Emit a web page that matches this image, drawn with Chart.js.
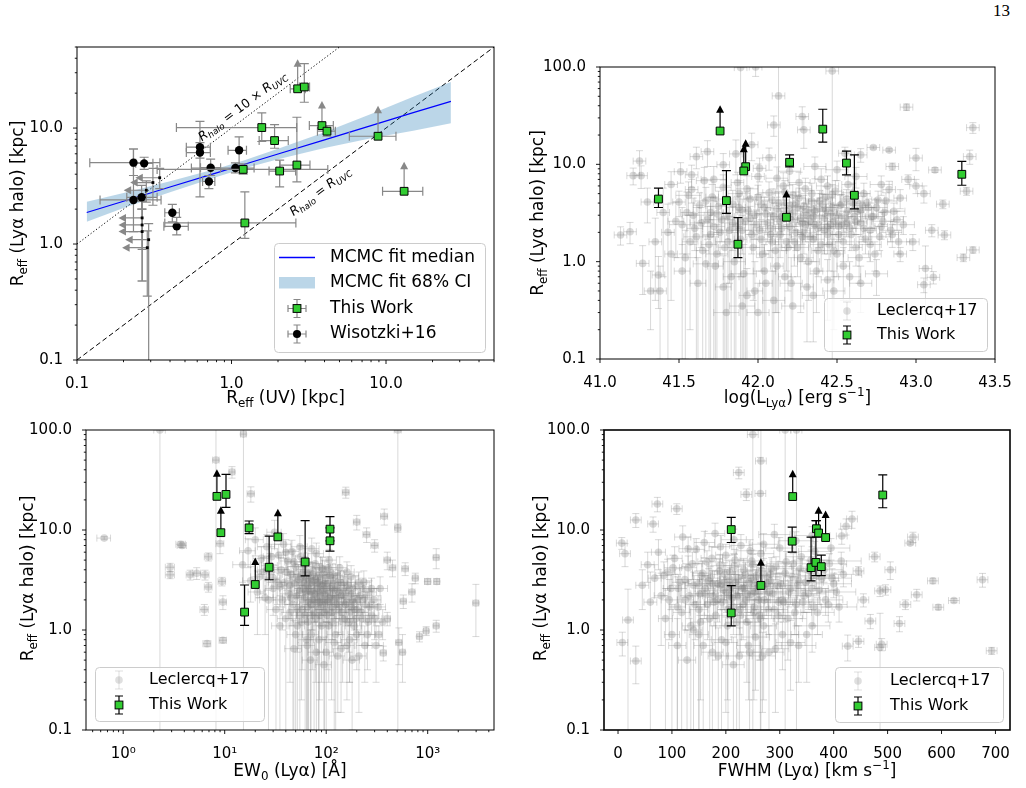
<!DOCTYPE html>
<html>
<head>
<meta charset="utf-8">
<script src="https://cdn.jsdelivr.net/npm/chart.js@4.4.1/dist/chart.umd.min.js"></script>
<style>
  html, body { margin: 0; background: #fff; }
  body { width: 1026px; height: 788px; position: relative; overflow: hidden; }
  canvas { position: absolute; }
  #page { position: absolute; left: 993px; top: 1px; font: 17px "Liberation Serif", serif; }
</style>
</head>
<body>
<div id="page">13</div>
<canvas id="pA"></canvas>
<canvas id="pB"></canvas>
<canvas id="pC"></canvas>
<canvas id="pD"></canvas>
<script>
// ---- panel A: R_eff(UV) vs R_eff(Lya halo) ----
const aTwUV   = [2.68, 2.96, 1.57, 1.90, 3.85, 4.15, 8.88, 2.65, 1.19, 2.05, 1.22, 13.1];
const aTwUVlo = [2.40, 2.75, 0.44, 1.51, 3.19, 3.60, 5.79, 2.06, 0.33, 1.75, 0.37, 9.5];
const aTwUVhi = [3.00, 3.20, 2.64, 2.33, 4.56, 4.70, 11.6, 3.22, 4.20, 2.60, 2.61, 17.3];
const aTwR    = [21.8, 22.6, 10.1, 7.8, 10.5, 9.4, 8.5, 4.8, 4.4, 4.26, 1.52, 2.85];
const aTwRlo  = [null, 16.7, 7.66, 6.7, null, 8.5, null, 3.43, 4.0, 3.11, 1.12, null];
const aTwRhi  = [35.5, 36.0, 13.5, 10.7, 15.5, 10.5, 14.1, 12.4, 4.9, 5.3, 2.82, 4.64];
const aTwLim  = [1, 0, 0, 0, 1, 0, 1, 0, 0, 0, 0, 1];

const aWiUV   = [0.232, 0.272, 0.625, 0.625, 1.12, 0.733, 1.06, 0.714, 0.232, 0.262, 0.414, 0.442];
const aWiUVlo = [0.121, 0.24, 0.51, 0.51, 0.95, 0.63, 0.55, 0.65, 0.141, 0.21, 0.37, 0.365];
const aWiUVhi = [0.344, 0.31, 0.73, 0.73, 1.25, 0.85, 1.40, 0.78, 0.35, 0.33, 0.46, 0.525];
const aWiR    = [5.03, 4.96, 6.84, 6.15, 6.43, 4.55, 4.52, 3.46, 2.40, 2.53, 1.86, 1.42];
const aWiRlo  = [3.9, 4.4, 5.5, 2.55, 4.9, 3.9, 4.1, 3.0, 1.28, 2.0, 1.55, 1.2];
const aWiRhi  = [6.6, 5.6, 11.4, 7.5, 8.4, 5.4, 5.0, 3.9, 6.6, 3.2, 2.2, 1.7];

const aUlUV   = [0.343, 0.31, 0.281, 0.264, 0.264, 0.264, 0.291, 0.285];
const aUlTip  = [0.257, 0.238, 0.216, 0.20, 0.20, 0.20, 0.221, 0.211];
const aUlR    = [3.73, 3.39, 2.91, 1.68, 1.46, 1.28, 1.09, 0.93];
const aUlRlo  = [3.0, 2.16, 2.3, 0.48, 0.9, 0.48, 0, 0.355];
const aUlRhi  = [4.5, 4.5, 3.5, 2.33, 2.0, 2.33, 1.5, 1.3];

const aFitUV  = [0.1156, 0.2, 0.4, 0.8, 1.2, 2, 4, 8, 15, 26.3];
const aFitMed = [1.87, 2.34, 3.10, 4.11, 4.85, 5.97, 7.91, 10.5, 13.6, 17.0];
const aFitLo  = [1.56, 2.04, 2.79, 3.79, 4.47, 5.38, 6.73, 8.15, 9.5, 11.0];
const aFitHi  = [2.31, 2.75, 3.48, 4.46, 5.26, 6.63, 9.22, 13.2, 18.6, 24.9];
const aOneToOne = [[0.1, 0.1], [50, 50]];
const aTenToOne = [[0.1, 1], [5, 50]];

// ---- panel B: log L(Lya) ----
const bTwL   = [41.37, 41.76, 41.80, 41.873, 41.922, 41.91, 42.18, 42.20, 42.41, 42.56, 42.61, 43.29];
const bTwR   = [4.4, 22.0, 4.24, 1.51, 9.46, 8.55, 2.86, 10.5, 23.0, 10.3, 4.81, 7.9];
const bTwRlo = [3.6, null, 3.14, 1.1, null, null, null, 9.4, 16.9, 7.8, 3.48, 6.1];
const bTwRhi = [5.7, 36, 8.6, 2.83, 16.1, 14.1, 4.85, 12.5, 36.8, 13.7, 12.5, 10.7];
const bTwLim = [0, 1, 0, 0, 1, 1, 1, 0, 0, 0, 0, 0];
// Leclercq+17 rows: [logL, R, logL err, R err]
const bCloud = [
 [41.45,1.2,.04,.8],[41.48,2.6,.05,1.5],[41.50,4.1,.04,1.2],[41.52,0.8,.05,.7],[41.55,3.2,.04,2.0],[41.57,1.6,.05,1.4],
 [41.58,5.5,.04,1.5],[41.60,2.2,.05,.9],[41.62,0.6,.05,.5],[41.63,3.8,.04,1.3],[41.65,1.3,.04,1.2],[41.66,6.8,.05,2.5],
 [41.68,2.7,.04,1.0],[41.70,1.9,.05,1.8],[41.71,4.6,.04,1.6],[41.73,0.9,.05,.9],[41.74,3.1,.04,1.1],[41.76,2.0,.04,.8],
 [41.78,5.8,.05,2.0],[41.79,1.4,.04,1.4],[41.81,2.9,.04,1.2],[41.83,0.7,.05,.7],[41.84,3.9,.04,1.5],[41.86,2.3,.04,2.3],
 [41.87,6.5,.04,1.8],[41.89,1.7,.04,1.0],[41.90,3.4,.04,1.0],[41.92,2.6,.05,2.6],[41.93,0.45,.05,.4],[41.95,4.4,.04,1.3],
 [41.96,1.9,.04,.7],[41.98,3.0,.04,1.3],[42.00,7.5,.04,2.6],[42.01,2.1,.04,1.0],[42.03,1.2,.04,1.1],[42.04,3.6,.04,1.0],
 [42.06,2.5,.04,.9],[42.07,5.1,.04,1.5],[42.09,1.6,.04,1.6],[42.10,2.9,.04,1.1],[42.12,0.9,.04,.6],[42.13,4.0,.04,1.2],
 [42.15,2.2,.04,.8],[42.16,6.0,.04,2.2],[42.18,3.3,.04,1.0],[42.19,1.4,.04,.9],[42.21,2.7,.04,1.0],[42.22,4.8,.04,1.4],
 [42.24,2.0,.04,.7],[42.25,3.6,.04,1.1],[42.27,1.1,.04,.8],[42.28,2.5,.04,1.0],[42.30,5.6,.04,1.6],[42.31,3.0,.04,.9],
 [42.33,1.8,.04,.7],[42.34,4.2,.04,1.2],[42.36,2.4,.04,.8],[42.37,0.8,.04,.5],[42.39,3.5,.04,1.0],[42.40,7.0,.04,2.0],
 [42.42,2.1,.04,.9],[42.43,4.6,.04,1.3],[42.45,1.5,.04,.7],[42.46,3.1,.04,.9],[42.48,2.6,.04,.7],[42.49,5.3,.04,1.5],
 [42.51,1.9,.04,.6],[42.52,3.8,.04,1.0],[42.54,0.9,.04,.5],[42.55,2.8,.04,.8],[42.57,6.2,.04,1.5],[42.58,2.2,.04,.7],
 [42.60,4.0,.04,1.1],[42.62,1.4,.04,.5],[42.63,3.3,.04,.9],[42.65,2.5,.04,.7],[42.67,5.0,.04,1.4],[42.68,1.7,.04,.5],
 [42.70,3.6,.04,.8],[42.72,2.9,.04,.7],[42.74,1.2,.04,.4],[42.76,4.3,.04,1.0],[42.78,2.3,.04,.6],[42.80,3.2,.04,.8],
 [42.83,5.5,.04,1.2],[42.85,1.9,.04,.5],[42.88,2.7,.04,.6],[42.90,4.5,.04,1.0],
 [41.95,2.8,.04,.9],[42.02,3.9,.04,1.2],[42.08,1.9,.04,.8],[42.14,2.6,.04,.9],[42.20,3.8,.04,1.1],[42.23,1.6,.04,.7],
 [42.26,4.5,.04,1.2],[42.29,2.0,.04,.8],[42.32,3.4,.04,1.0],[42.35,2.9,.04,.9],[42.38,1.3,.04,.6],[42.41,3.9,.04,1.0],
 [42.44,2.3,.04,.8],[42.47,3.6,.04,.9],[42.50,1.2,.04,.5],[42.53,2.4,.04,.7],[42.56,4.4,.04,1.1],[42.61,2.9,.04,.7],
 [42.66,3.8,.04,.9],[42.71,2.1,.04,.6],[41.88,3.6,.04,1.4],[41.82,2.1,.05,1.5],[41.75,3.7,.05,1.6],[41.69,1.5,.05,1.5],
 [42.05,0.6,.04,.6],[42.17,0.7,.04,.6],[42.31,0.55,.04,.4],[42.44,0.65,.04,.4],[41.98,0.5,.05,.5],[41.78,0.55,.05,.6],
 [41.89,98.6,.04,120],[41.985,100,.04,20],[42.13,50.5,.04,60],[42.47,91,.04,100],[42.94,38.7,.04,3],[43.36,23.8,.04,3],
 [41.25,10.8,.04,3],[41.21,7.65,.04,1.5],[41.26,7.65,.04,2],[41.13,1.88,.04,.4],[41.19,2.03,.04,.5],[41.27,0.96,.04,.5],
 [41.32,0.5,.04,.3],[41.38,0.5,.04,.4],[41.37,0.73,.04,.4],[43.30,1.1,.04,.1],[43.36,1.32,.04,.1],[43.32,5.3,.04,.5],
 [43.34,12,.04,2],[43.18,1.88,.04,.2],[43.05,0.58,.04,.1],[43.11,0.69,.04,.1],[43.06,0.85,.04,.6],[43.0,11.6,.04,3],
 [43.12,8.75,.04,.5],[43.17,3.9,.04,.4],[42.73,14.9,.04,.5],[42.83,14,.04,.5],[42.29,22.6,.04,8],[42.28,31,.04,8],
 [42.10,25.4,.04,6],[41.68,13.5,.04,4],[41.61,12,.04,3],[41.51,8.4,.04,2],[41.58,7.8,.04,2],[41.78,9.9,.04,3],
 [41.86,12.8,.04,5],[41.96,15.9,.04,5],[42.01,9.1,.04,2.5],[42.07,11.7,.04,3],[42.55,13,.04,2],[42.65,12.5,.04,2],
 [42.85,9.5,.04,.8],[42.95,7,.04,.8],[43.0,6,.04,1],[43.05,5,.04,1],[43.1,2.1,.04,.3],[42.98,1.6,.04,.3],
 [42.9,1.2,.04,.2],[41.4,3.2,.04,2.5],[41.43,2.0,.04,1.9],[41.35,1.6,.04,1.2],[41.3,4.1,.04,1.6],[41.45,6.2,.04,2.2]
];
const bCloudCore = [
 [41.52,2.4,.08,1.2],[41.54,1.1,.07,1.0],[41.56,4.8,.08,1.8],[41.59,3.0,.07,1.5],[41.61,1.8,.08,1.8],[41.64,2.5,.07,1.1],[41.67,0.95,.08,.9],[41.67,4.2,.07,1.6],
 [41.70,3.2,.08,1.4],[41.72,2.3,.07,2.3],[41.74,1.2,.07,1.2],[41.77,2.7,.08,1.1],[41.80,4.4,.07,1.6],[41.81,1.6,.08,1.6],[41.84,2.5,.07,1.2],[41.85,1.0,.07,1.0],
 [41.88,5.0,.07,1.8],[41.90,2.1,.07,.9],[41.91,0.75,.08,.75],[41.94,3.3,.07,1.2],[41.97,1.4,.07,1.0],[41.99,2.4,.07,1.0],[42.00,4.6,.07,1.5],[42.02,1.7,.07,.9],
 [42.04,0.8,.07,.7],[42.05,3.1,.07,1.1],[42.08,2.2,.07,.9],[42.09,4.3,.07,1.3],[42.11,1.3,.07,1.0],[42.12,3.5,.07,1.1],[42.14,1.9,.07,.8],[42.15,2.9,.07,1.0],
 [42.17,5.2,.07,1.6],[42.18,1.6,.07,.8],[42.20,2.3,.07,.9],[42.21,0.6,.07,.5],[42.22,3.1,.07,1.0],[42.24,4.0,.07,1.2],[42.25,1.4,.07,.7],[42.27,2.8,.07,.9],
 [42.28,1.8,.07,.8],[42.29,3.7,.07,1.1],[42.30,2.4,.07,.8],[42.32,1.0,.07,.6],[42.33,2.6,.07,.8],[42.34,5.0,.07,1.4],[42.35,1.7,.07,.7],[42.36,3.3,.07,1.0],
 [42.38,2.2,.07,.8],[42.39,4.2,.07,1.2],[42.40,1.5,.07,.7],[42.42,2.8,.07,.8],[42.43,3.4,.07,1.0],[42.44,1.9,.07,.7],[42.46,2.4,.07,.7],[42.47,4.9,.07,1.3],
 [42.48,1.3,.07,.6],[42.50,3.0,.07,.8],[42.51,2.3,.07,.7],[42.53,3.9,.07,1.0],[42.54,1.6,.07,.6],[42.56,2.5,.07,.7],[42.57,3.3,.07,.9],[42.59,1.9,.07,.6],
 [42.60,5.1,.07,1.3],[42.62,2.6,.07,.7],[42.64,1.1,.07,.5],[42.65,3.4,.07,.8],[42.67,2.2,.07,.6],[42.69,4.0,.07,1.0],[42.71,1.5,.07,.5],[42.73,2.9,.07,.7],
 [42.75,3.6,.07,.8],[42.77,1.8,.07,.5],[42.79,2.6,.07,.6],[42.81,4.2,.07,.9],[42.84,2.1,.07,.5],[42.86,3.3,.07,.7],[42.89,1.6,.07,.4],[42.92,2.4,.07,.5],
 [42.10,0.4,.07,.4],[42.22,0.35,.07,.35],[42.35,0.45,.07,.3],[42.48,0.5,.07,.3],[42.58,0.7,.07,.3],[41.90,0.35,.08,.35],[41.80,0.3,.08,.3],[42.65,0.6,.07,.3],
 [42.75,0.75,.07,.3],[42.00,0.3,.07,.3],[42.26,6.5,.07,1.8],[42.44,6.0,.07,1.6],[42.12,7.2,.07,2.2],[41.93,5.6,.07,2.0],[42.62,7.5,.07,1.8],[42.78,6.2,.07,1.4],
 [42.20,8.5,.07,2.4],[42.50,8.8,.07,2.0],[41.72,7.0,.08,2.5],[42.36,9.5,.07,2.4]
];

// ---- panel C: EW0(Lya) ----
const cTwEW  = [8.38, 10.3, 9.17, 17.4, 15.7, 20.0, 27.4, 33.4, 62, 109, 109];
const cTwR   = [21.7, 22.7, 9.4, 10.5, 1.51, 2.85, 4.24, 8.53, 4.79, 10.2, 7.8];
const cTwRlo = [null, 16.8, null, 9.2, 1.11, null, 3.18, null, 3.48, 7.8, 6.15];
const cTwRhi = [36, 36, 15.4, 12.3, 2.82, 4.74, 8.67, 14.5, 12.4, 13.6, 10.5];
const cTwLim = [1, 0, 1, 0, 0, 1, 0, 1, 0, 0, 0];
const cCloud = [
 [15,4.5,3,1.5],[17,6.2,3,2],[18,3.1,3,1.2],[20,8.0,4,2.5],[21,2.4,4,1.5],[23,5.2,4,1.6],[24,3.8,4,1.5],[26,6.8,5,2.2],
 [27,2.0,5,2.0],[28,4.4,5,1.4],[30,3.3,5,1.2],[31,9.5,5,3],[32,1.6,6,1.6],[34,5.6,6,1.6],[35,2.7,6,1.0],[36,4.0,6,1.3],
 [38,7.2,7,2],[39,3.0,7,1.2],[40,1.3,7,1.3],[42,4.9,7,1.4],[43,2.3,8,1.0],[45,3.6,8,1.2],[46,6.1,8,1.8],[47,1.8,8,1.8],
 [49,2.9,9,1.0],[50,4.3,9,1.3],[52,1.1,9,1.1],[53,3.4,9,1.1],[55,2.5,10,1.0],[56,5.4,10,1.6],[58,1.6,10,1.2],[59,3.0,10,1.0],
 [61,2.1,11,0.9],[62,4.0,11,1.3],[64,0.8,11,0.8],[65,2.8,12,1.0],[67,1.9,12,1.9],[68,3.7,12,1.1],[70,2.4,12,0.9],[72,6.5,13,1.8],
 [73,1.4,13,1.0],[75,3.1,13,1.0],[77,2.0,14,0.8],[78,4.6,14,1.3],[80,0.6,14,0.6],[82,2.6,15,0.9],[84,1.7,15,1.7],[85,3.5,15,1.1],
 [88,2.2,16,0.8],[90,1.1,16,0.8],[92,4.1,16,1.2],[94,2.9,17,0.9],[96,1.5,17,1.5],[98,2.3,17,0.8],[100,3.3,18,1.0],[104,1.9,18,0.7],
 [107,5.0,19,1.4],[110,2.6,20,0.8],[113,1.2,20,1.0],[116,3.6,21,1.0],[120,2.0,22,0.7],[124,0.9,22,0.9],[128,2.8,23,0.9],[132,1.6,24,0.7],
 [136,4.2,25,1.2],[140,2.2,25,0.8],[145,1.3,26,1.0],[150,3.0,27,0.9],[155,1.8,28,0.7],[160,0.7,29,0.5],[165,2.5,30,0.8],[170,1.5,31,1.2],
 [176,3.4,32,1.0],[182,2.0,33,0.7],[188,1.1,34,0.6],[195,2.7,35,0.8],[200,1.6,36,0.6],[210,0.55,38,0.4],[215,2.2,39,0.7],[225,1.3,41,0.6],
 [235,3.0,43,0.9],[245,1.8,44,0.6],[255,0.9,46,0.5],[265,2.4,48,0.7],[280,1.4,51,0.5],[295,2.0,53,0.6],[310,0.7,56,0.4],[325,1.7,59,0.5],
 [340,2.6,62,0.8],[360,1.2,65,0.4],
 [55,1.4,10,1.4],[60,2.6,11,0.9],[66,1.2,12,1.2],[71,3.3,13,1.0],[76,1.5,14,1.5],[81,2.0,15,0.8],[86,2.9,15,0.9],[91,1.8,16,1.0],
 [97,3.8,17,1.1],[102,1.4,18,1.0],[108,2.1,19,0.8],[115,1.7,21,0.9],[122,2.5,22,0.8],[70,0.5,12,0.5],[95,0.45,17,0.4],[130,0.55,23,0.4],
 [48,0.65,9,0.6],[180,0.5,33,0.4],
 [0.65,8.3,.1,.3],[2.3,100,.3,150],[15.3,91,1,100],[508,100,40,150],[8.2,50,.6,60],[11.8,38,.8,5],[18.1,23,1.5,4],[156,23.8,12,3],
 [373,13.7,30,2.5],[508,10.5,35,1],[1213,5.3,80,1.2],[2985,1.86,200,1],[1213,1.1,80,.15],[966,0.98,60,.1],[830,0.86,50,.1],
 [1230,3.06,80,.2],[1000,3.06,70,.2],[755,3.3,50,.4],[575,1.94,40,.3],[520,0.75,35,.3],[565,0.6,35,.3],[365,0.59,25,.1],
 [3.7,7.2,.4,.5],[3.8,7.0,.4,.4],[2.9,4.24,.3,.4],[2.9,3.56,.3,.3],[4.57,3.56,.4,.4],[5.3,3.7,.5,.5],[6.4,3.56,.6,.4],
 [6.9,2.69,.6,.3],[6.3,1.6,.6,.2],[6.7,0.73,.6,.05],[9.6,0.79,.8,.05],[6.9,5.4,.6,.5],[9,7.3,.8,1.5],[9.6,1.9,.8,.3],
 [9.4,3.06,.8,.3],[200,12,15,2],[250,9,20,1.5],[300,7,25,1],[400,5,30,1],[450,4.2,35,.8],[600,4.1,45,.6],[700,2.4,50,.5],
 [330,0.9,25,.2],[400,1.3,30,.2]
];
const cCloudCore = [
 [22,3.4,4,1.3],[25,2.1,5,1.2],[29,5.4,5,1.8],[33,3.0,6,1.2],[37,2.0,7,1.0],[41,3.8,7,1.3],[44,1.5,8,1.2],[48,4.8,9,1.5],
 [51,2.2,9,0.9],[54,3.2,10,1.1],[57,1.2,10,1.0],[60,4.5,11,1.4],[63,2.4,11,0.9],[66,1.7,12,0.9],[69,2.9,12,1.0],[71,0.9,13,0.8],
 [74,3.6,13,1.1],[76,2.3,14,0.9],[79,1.3,14,1.0],[83,3.0,15,1.0],[87,1.9,16,0.8],[89,4.2,16,1.2],[93,2.5,17,0.9],[99,1.6,18,0.8],
 [103,2.9,18,0.9],[106,1.1,19,0.8],[111,2.2,20,0.8],[118,3.1,21,0.9],[125,1.8,22,0.7],[133,2.4,24,0.8],[142,1.5,25,0.6],[148,2.6,27,0.8],
 [158,1.9,28,0.7],[168,1.2,30,0.6],[178,2.3,32,0.7],[190,1.6,34,0.6],[205,2.0,37,0.6],[220,1.5,40,0.6],[240,2.1,43,0.6],[260,1.2,47,0.5],
 [44,2.8,8,1.0],[58,3.6,10,1.2],[62,1.4,11,1.4],[67,2.6,12,0.9],[73,2.0,13,1.0],[78,3.2,14,1.0],[86,1.4,15,1.2],[92,2.7,16,0.9],
 [101,2.0,18,0.8],[109,3.5,20,1.0],[114,1.5,21,0.7],[127,2.1,23,0.8],[138,3.0,25,0.9],[152,1.3,28,0.6],[163,2.8,30,0.8],[185,1.9,33,0.7],
 [198,1.3,36,0.5],[230,2.6,41,0.7],[270,1.7,49,0.5],[300,1.3,54,0.5],[50,0.9,9,0.9],[65,0.7,12,0.7],[85,0.8,15,0.8],[100,0.6,18,0.6],
 [120,0.75,22,0.7],[140,0.65,25,0.5],[170,0.8,31,0.5],[200,0.9,36,0.5],[240,0.7,43,0.4],[35,1.1,6,1.1],[26,4.0,5,1.5],[30,2.6,5,1.2],
 [40,6.0,7,2.0],[55,6.8,10,2.0],[80,5.8,14,1.6],[105,4.2,19,1.2],[130,3.5,23,1.0],[160,3.8,29,1.0],[210,3.0,38,0.8],[280,2.6,50,0.7],
 [45,2.1,8,1.0],[52,1.6,9,1.0],[64,3.3,12,1.0],[71,1.8,13,0.8],[83,2.4,15,0.8],[95,1.9,17,0.7],[115,2.6,21,0.8],[135,1.8,24,0.6],
 [150,2.2,27,0.7],[175,1.7,32,0.6]
];

// ---- panel D: FWHM(Lya) ----
const dTwF   = [324, 491, 210, 323, 368, 372, 385, 358, 367, 377, 265, 210];
const dTwR   = [21.6, 22.4, 10.1, 7.73, 10.3, 9.33, 8.4, 4.2, 4.74, 4.3, 2.79, 1.48];
const dTwRlo = [null, 16.7, 7.5, 6.0, 8.5, null, null, 3.1, 3.5, 3.5, null, 1.1];
const dTwRhi = [35.6, 35.6, 13.4, 10.7, 12.4, 15.4, 14.0, 8.5, 12.4, 5.6, 4.64, 2.78];
const dTwLim = [1, 0, 0, 0, 0, 1, 1, 0, 0, 0, 1, 0];
const dCloud = [
 [45,2.8,12,1.2],[55,4.5,12,1.5],[60,1.9,12,1.9],[68,3.3,12,1.2],[75,6.0,13,2],[80,2.2,13,1.5],[88,1.3,13,1.3],[92,3.8,14,1.3],
 [98,2.6,14,1.0],[105,5.2,14,1.6],[110,1.7,15,1.7],[115,3.0,15,1.1],[120,8.5,15,2.5],[125,2.0,15,1.0],[130,4.2,16,1.3],[135,1.1,16,1.1],
 [140,2.8,16,1.0],[145,6.4,16,1.8],[150,1.6,17,1.6],[155,3.5,17,1.1],[160,2.3,17,0.9],[165,4.8,17,1.4],[170,1.3,18,1.2],[175,2.9,18,1.0],
 [180,9.2,18,2.5],[184,2.0,18,0.8],[188,3.9,19,1.2],[192,0.8,19,0.8],[196,2.5,19,0.9],[200,5.6,19,1.6],[204,1.6,20,1.6],[208,3.2,20,1.0],
 [212,2.1,20,0.8],[216,4.4,20,1.3],[220,1.2,21,1.1],[224,2.7,21,0.9],[228,7.0,21,2.0],[232,1.8,21,1.0],[236,3.6,22,1.1],[240,2.3,22,0.8],
 [244,0.6,22,0.6],[248,4.9,22,1.4],[252,1.5,23,1.3],[256,3.0,23,1.0],[260,2.0,23,0.8],[265,5.8,24,1.6],[270,1.1,24,0.9],[275,3.4,24,1.0],
 [280,2.4,25,0.8],[285,4.1,25,1.2],[290,1.6,25,1.0],[295,2.8,26,0.9],[300,6.6,26,1.8],[305,2.0,26,0.7],[310,3.7,27,1.0],[315,1.3,27,0.8],
 [320,2.6,27,0.8],[325,4.6,28,1.2],[330,1.8,28,0.7],[335,3.1,28,0.9],[340,5.4,29,1.5],[345,2.2,29,0.7],[350,0.9,29,0.6],[355,3.9,30,1.0],
 [360,2.6,30,0.7],[365,6.1,30,1.6],[370,1.5,31,0.6],[378,3.3,31,0.9],[385,2.0,32,0.6],[392,4.6,32,1.2],[400,2.9,33,0.8],[410,1.7,33,0.5],
 [418,3.6,34,0.9],[128,0.5,16,0.5],[158,0.7,17,0.6],[186,0.55,19,0.5],[214,0.45,20,0.4],[242,0.7,22,0.5],[268,0.55,24,0.4],[292,0.65,25,0.5],
 [320,0.75,27,0.5],[100,0.9,14,0.9],[140,1.0,16,0.9],
 [152,2.3,17,0.9],[168,3.1,17,1.0],[178,1.9,18,0.8],[190,2.8,19,0.9],[198,3.6,19,1.1],[206,2.2,20,0.8],[218,3.0,20,0.9],[226,1.6,21,0.7],
 [234,2.6,21,0.8],[246,3.3,22,1.0],[254,2.4,23,0.8],[262,1.4,23,0.9],[272,2.7,24,0.8],[282,3.1,25,0.9],[298,1.9,26,0.7],
 [250,90,10,100],[310,100,10,120],[331,100,10,150],[265,49,10,60],[224,37.5,10,5],[264,23.2,10,30],[238,22.7,10,3],[73,18.2,10,3],
 [109,16.3,10,2],[33,12.6,10,2],[65,11.5,10,2],[7,7.4,10,1],[13,5.8,10,1.5],[8,0.75,10,.2],[18.5,1.26,10,1.3],[33,0.49,10,.2],
 [693,0.62,10,.05],[676,3.18,10,.5],[623,1.97,10,.1],[594,1.69,10,.1],[584,3.1,10,.2],[554,2.25,10,.3],[533,1.8,10,.2],[522,1.16,10,.2],
 [547,8.5,10,1],[542,7.4,10,.3],[476,5.4,10,.6],[505,4,10,.8],[496,2.53,10,.3],[486,2.46,10,.3],[486,0.67,10,.8],[489,0.72,10,.1],
 [446,3.9,10,.4],[455,2.0,10,.3],[468,1.23,10,.2],[426,0.69,10,.2],[446,0.77,10,.1],[434,12.9,10,2.5],[423,10.9,10,2],[415,8.7,10,1.5]
];
const dCloudCore = [
 [85,3.5,15,1.3],[95,2.0,15,1.2],[102,4.2,16,1.4],[112,2.6,16,1.0],[118,1.5,16,1.4],[124,3.2,17,1.1],[132,2.2,17,0.9],[138,4.6,18,1.4],
 [143,1.8,18,1.0],[148,2.9,18,1.0],[153,1.2,19,1.0],[157,3.7,19,1.2],[162,2.6,19,0.9],[166,1.8,20,1.0],[171,3.3,20,1.0],[174,5.2,20,1.6],
 [177,2.2,20,0.9],[181,1.4,21,0.9],[185,2.9,21,1.0],[189,4.4,21,1.3],[193,1.9,22,0.8],[197,3.0,22,1.0],[201,2.4,22,0.9],[203,1.1,22,0.9],
 [207,3.8,23,1.1],[210,2.7,23,0.9],[214,1.7,23,0.8],[217,5.0,23,1.4],[221,2.2,24,0.8],[223,3.3,24,1.0],[227,1.4,24,0.8],[230,2.6,24,0.9],
 [233,4.0,25,1.2],[237,2.0,25,0.8],[239,1.2,25,0.9],[243,3.0,25,0.9],[247,2.3,26,0.8],[250,4.5,26,1.2],[253,1.7,26,0.8],[257,3.5,26,1.0],
 [261,2.7,27,0.8],[264,1.3,27,0.8],[267,3.9,27,1.1],[271,2.0,27,0.7],[276,2.9,28,0.9],[279,1.6,28,0.7],[283,3.6,28,1.0],[287,2.3,29,0.7],
 [293,4.3,29,1.1],[297,1.4,29,0.7],[302,2.9,30,0.8],[307,1.9,30,0.7],[312,4.8,30,1.3],[317,2.4,31,0.7],[323,3.4,31,0.9],[328,1.5,31,0.6],
 [333,2.8,32,0.8],[338,4.1,32,1.1],[343,1.9,32,0.6],[348,3.0,33,0.8],[353,2.3,33,0.7],[358,5.0,33,1.3],[363,1.7,34,0.6],[368,3.5,34,0.9],
 [373,2.5,34,0.7],[382,4.0,35,1.0],[390,1.8,35,0.6],[397,3.3,36,0.8],[405,2.4,36,0.7],[414,4.9,37,1.1],[110,0.7,16,0.6],[150,0.9,18,0.8],
 [175,0.6,20,0.5],[200,0.75,22,0.6],[225,0.55,24,0.5],[255,0.85,26,0.6],[280,0.6,28,0.5],[305,0.9,30,0.5],[335,0.7,32,0.4],[360,1.1,33,0.5],
 [130,6.5,17,2.0],[160,7.5,19,2.2],[190,6.8,21,2.0],[215,8.0,23,2.2],[245,6.2,25,1.8],[270,7.2,27,2.0],[290,9.0,29,2.4],[330,7.8,32,1.8],
 [360,8.8,33,2.0],[395,6.6,35,1.6]
];

// ---- tick labels ----
const aTickVals = [0.1, 1, 10];
const aTickLabels = ['0.1', '1.0', '10.0'];
const rTickVals = [0.1, 1, 10, 100];
const rTickLabels = ['0.1', '1.0', '10.0', '100.0'];
const bTickVals = [41.0, 41.5, 42.0, 42.5, 43.0, 43.5];
const bTickLabels = ['41.0', '41.5', '42.0', '42.5', '43.0', '43.5'];
const cTickVals = [1, 10, 100, 1000];
const cTickLabels = ['10\u2070', '10\u00b9', '10\u00b2', '10\u00b3'];
const dTickVals = [0, 100, 200, 300, 400, 500, 600, 700];
const dTickLabels = ['0', '100', '200', '300', '400', '500', '600', '700'];

// ---------------------------------------------------------------
Chart.defaults.font.family = 'DejaVu Sans';
Chart.defaults.color = '#000';

const GREEN = '#32cd32';
const CLOUD = 'rgba(128,128,128,0.3)';
const BAND = 'rgba(31,119,180,0.3)';
const TICKFONT = { size: 15 };

function place(id, box) {
  const c = document.getElementById(id);
  c.width = box[2]; c.height = box[3];
  c.style.left = box[0] + 'px'; c.style.top = box[1] + 'px';
  return c;
}

function logGrid(min, max) {
  const out = [];
  for (let e = Math.floor(Math.log10(min)); e <= Math.ceil(Math.log10(max)); e++) {
    for (let d = 1; d < 10; d++) {
      const v = +(d * Math.pow(10, e)).toPrecision(6);
      if (v >= min * 0.9999 && v <= max * 1.0001) out.push({ value: v });
    }
  }
  return out;
}

function pickLabel(vals, labels, v) {
  const i = vals.findIndex(m => Math.abs(m - v) <= Math.abs(m) * 1e-6 + 1e-9);
  return i < 0 ? '' : labels[i];
}

function axis(kind, min, max, vals, labels, pad, fit) {
  return {
    type: kind, min, max, bounds: 'data',
    afterBuildTicks: s => { s.ticks = kind === 'logarithmic' ? logGrid(min, max) : vals.map(v => ({ value: v })); },
    ticks: { autoSkip: false, maxRotation: 0, minRotation: 0, padding: pad, font: TICKFONT, color: '#000',
      callback: v => pickLabel(vals, labels, v) },
    grid: { display: false }, border: { display: false },
    afterFit: fit
  };
}

function toPts(xs, ys, o) {
  return xs.map((x, i) => ({
    x, y: ys[i],
    xlo: o.xlo ? o.xlo[i] : null, xhi: o.xhi ? o.xhi[i] : null,
    ylo: o.ylo ? o.ylo[i] : null, yhi: o.yhi ? o.yhi[i] : null,
    lim: o.lim ? o.lim[i] : 0, xlim: o.xlim ? o.xlim[i] : null
  }));
}
const cloudPts = rows => rows.map(([x, y, xe, ye]) => ({ x, y, xlo: x - xe, xhi: x + xe, ylo: y - ye, yhi: y + ye }));

function headUp(ctx, x, y) { ctx.beginPath(); ctx.moveTo(x, y - 5); ctx.lineTo(x - 4, y + 2.5); ctx.lineTo(x + 4, y + 2.5); ctx.closePath(); ctx.fill(); }
function headLeft(ctx, x, y) { ctx.beginPath(); ctx.moveTo(x - 5, y); ctx.lineTo(x + 2.5, y - 4); ctx.lineTo(x + 2.5, y + 4); ctx.closePath(); ctx.fill(); }

function drawErr(chart, data, st) {
  const ctx = chart.ctx, a = chart.chartArea, sx = chart.scales.x, sy = chart.scales.y;
  const c = st.cap;
  ctx.save();
  ctx.beginPath(); ctx.rect(a.left, a.top, a.right - a.left, a.bottom - a.top); ctx.clip();
  ctx.strokeStyle = st.color; ctx.fillStyle = st.color; ctx.lineWidth = st.lw;
  for (const p of data) {
    const x = sx.getPixelForValue(p.x), y = sy.getPixelForValue(p.y);
    ctx.beginPath();
    if (p.xlo != null) {
      const x0 = (sx.type === 'logarithmic' && p.xlo <= 0) ? a.left - 20 : sx.getPixelForValue(p.xlo);
      const x1 = sx.getPixelForValue(p.xhi);
      ctx.moveTo(x0, y); ctx.lineTo(x1, y);
      ctx.moveTo(x0, y - c); ctx.lineTo(x0, y + c);
      ctx.moveTo(x1, y - c); ctx.lineTo(x1, y + c);
    }
    let tipY = null, tipX = null;
    if (p.lim) {
      tipY = sy.getPixelForValue(p.yhi);
      ctx.moveTo(x, y); ctx.lineTo(x, tipY);
    } else if (p.yhi != null) {
      const y0 = p.ylo > 0 ? sy.getPixelForValue(p.ylo) : a.bottom + 20;
      const y1 = sy.getPixelForValue(p.yhi);
      ctx.moveTo(x, y0); ctx.lineTo(x, y1);
      if (p.ylo > 0) { ctx.moveTo(x - c, y0); ctx.lineTo(x + c, y0); }
      ctx.moveTo(x - c, y1); ctx.lineTo(x + c, y1);
    }
    if (p.xlim != null) {
      tipX = sx.getPixelForValue(p.xlim);
      ctx.moveTo(x, y); ctx.lineTo(tipX, y);
    }
    ctx.stroke();
    if (tipY != null) headUp(ctx, x, tipY);
    if (tipX != null) headLeft(ctx, tipX, y);
  }
  ctx.restore();
}

const errPlugin = {
  id: 'errs',
  beforeDatasetDraw(chart, args) {
    const ds = chart.data.datasets[args.index];
    if (ds.err) drawErr(chart, ds.data, ds.err);
  }
};

function framePlugin(lw, color) {
  return {
    id: 'frame',
    afterDatasetsDraw(chart) {
      const { ctx, chartArea: a } = chart;
      ctx.save();
      ctx.strokeStyle = color; ctx.lineWidth = lw;
      ctx.strokeRect(a.left, a.top, a.right - a.left, a.bottom - a.top);
      ctx.lineWidth = 0.9; ctx.strokeStyle = '#000';
      ctx.beginPath();
      for (const t of chart.scales.x.ticks) {
        const L = t.label !== '' ? 4 : 2.2;
        const p = chart.scales.x.getPixelForValue(t.value);
        ctx.moveTo(p, a.bottom); ctx.lineTo(p, a.bottom + L);
      }
      for (const t of chart.scales.y.ticks) {
        const L = t.label !== '' ? 4 : 2.2;
        const p = chart.scales.y.getPixelForValue(t.value);
        ctx.moveTo(a.left, p); ctx.lineTo(a.left - L, p);
      }
      ctx.stroke();
      ctx.restore();
    }
  };
}

// rich text: parts [text, flags] flags: i italic, s subscript, p superscript
function rich(ctx, parts, x, y, size, rot, align) {
  ctx.save();
  ctx.translate(x, y); ctx.rotate(rot || 0);
  ctx.fillStyle = '#000'; ctx.textBaseline = 'alphabetic'; ctx.textAlign = 'left';
  const fnt = f => (f.includes('i') ? 'italic ' : '') + ((f.includes('s') || f.includes('p')) ? size * 0.7 : size) + 'px "DejaVu Sans"';
  let w = 0;
  for (const [t, f] of parts) { ctx.font = fnt(f); w += ctx.measureText(t).width; }
  let cx = align === 'left' ? 0 : -w / 2;
  for (const [t, f] of parts) {
    ctx.font = fnt(f);
    const dy = f.includes('s') ? size * 0.22 : f.includes('p') ? -size * 0.42 : 0;
    ctx.fillText(t, cx, dy);
    cx += ctx.measureText(t).width;
  }
  ctx.restore();
}

function legendFrame(ctx, x0, y0, x1, y1) {
  ctx.save();
  ctx.beginPath();
  if (ctx.roundRect) ctx.roundRect(x0 + 0.5, y0 + 0.5, x1 - x0, y1 - y0, 4); else ctx.rect(x0 + 0.5, y0 + 0.5, x1 - x0, y1 - y0);
  ctx.fillStyle = 'rgba(255,255,255,0.8)'; ctx.fill();
  ctx.strokeStyle = '#cccccc'; ctx.lineWidth = 1; ctx.stroke();
  ctx.restore();
}

function handleErr(ctx, x, y, hx, vy, color, lw, cap) {
  ctx.save();
  ctx.strokeStyle = color; ctx.lineWidth = lw;
  ctx.beginPath();
  if (hx) { ctx.moveTo(x - hx, y); ctx.lineTo(x + hx, y); ctx.moveTo(x - hx, y - cap); ctx.lineTo(x - hx, y + cap); ctx.moveTo(x + hx, y - cap); ctx.lineTo(x + hx, y + cap); }
  ctx.moveTo(x, y - vy); ctx.lineTo(x, y + vy);
  ctx.moveTo(x - cap, y - vy); ctx.lineTo(x + cap, y - vy);
  ctx.moveTo(x - cap, y + vy); ctx.lineTo(x + cap, y + vy);
  ctx.stroke();
  ctx.restore();
}
function handleSquare(ctx, x, y) {
  ctx.save(); ctx.fillStyle = GREEN; ctx.strokeStyle = '#000'; ctx.lineWidth = 1;
  ctx.fillRect(x - 3.9, y - 3.9, 7.8, 7.8); ctx.strokeRect(x - 3.9, y - 3.9, 7.8, 7.8); ctx.restore();
}
function handleDot(ctx, x, y, r, color) {
  ctx.save(); ctx.fillStyle = color; ctx.beginPath(); ctx.arc(x, y, r, 0, Math.PI * 2); ctx.fill(); ctx.restore();
}
function legendText(ctx, t, x, y, size) {
  ctx.save(); ctx.fillStyle = '#000'; ctx.font = size + 'px "DejaVu Sans"'; ctx.textBaseline = 'middle'; ctx.fillText(t, x, y); ctx.restore();
}

const REFF_Y = [['R', ''], ['eff', 's'], [' (Ly\u03b1 halo) [kpc]', '']];

function cloudLegend(ctx, box, hx, tx, y1, y2) {
  legendFrame(ctx, box[0], box[1], box[2], box[3]);
  handleErr(ctx, hx, y1, 0, 9, 'rgba(128,128,128,0.25)', 1, 4);
  handleDot(ctx, hx, y1, 3.8, 'rgba(128,128,128,0.25)');
  legendText(ctx, 'Leclercq+17', tx, y1, 16);
  handleErr(ctx, hx, y2, 0, 9, '#000', 1.2, 4);
  handleSquare(ctx, hx, y2);
  legendText(ctx, 'This Work', tx, y2, 16);
}

function decoPlugin(box, fn) {
  return { id: 'deco', afterDraw(chart) { const ctx = chart.ctx; ctx.save(); ctx.translate(-box[0], -box[1]); fn(ctx, chart); ctx.restore(); } };
}

function baseConfig(box, area, datasets, xAxis, yAxis, plugins) {
  return {
    type: 'scatter',
    data: { datasets },
    options: {
      responsive: false, animation: false, devicePixelRatio: 1, events: [],
      layout: { padding: { left: 0, top: area[1] - box[1], right: box[0] + box[2] - area[2], bottom: 0 } },
      plugins: { legend: { display: false }, tooltip: { enabled: false } },
      scales: { x: xAxis, y: yAxis }
    },
    plugins
  };
}
const fitX = (box, area) => s => { s.height = box[1] + box[3] - area[3]; };
const fitY = (box, area) => s => { s.width = area[0] - box[0]; };

function twDataset(pts, errColor) {
  return { data: pts, order: 0, pointStyle: 'rect', pointRadius: 5.5, backgroundColor: GREEN, borderColor: '#000', borderWidth: 1,
    err: { color: errColor, lw: 1.2, cap: 4.5 } };
}
function cloudDataset(rows) {
  return { data: cloudPts(rows), order: 5, pointRadius: 3.8, backgroundColor: CLOUD, borderWidth: 0,
    err: { color: CLOUD, lw: 1, cap: 3.5 } };
}

// ---------------- panel A ----------------
{
  const box = [0, 30, 513, 385], area = [77, 47, 494, 360];
  const xy = arr => arr.map(([x, y]) => ({ x, y }));
  const ds = [
    twDataset(toPts(aTwUV, aTwR, { xlo: aTwUVlo, xhi: aTwUVhi, ylo: aTwRlo, yhi: aTwRhi, lim: aTwLim }), '#888888'),
    { data: toPts(aWiUV, aWiR, { xlo: aWiUVlo, xhi: aWiUVhi, ylo: aWiRlo, yhi: aWiRhi }), order: 1, pointRadius: 4.2, backgroundColor: '#000', borderWidth: 0,
      err: { color: '#888888', lw: 1.2, cap: 4.5 } },
    { data: toPts(aUlUV, aUlR, { ylo: aUlRlo, yhi: aUlRhi, xlim: aUlTip }), order: 1, pointStyle: 'rect', pointRadius: 2, backgroundColor: '#000', borderWidth: 0,
      err: { color: '#888888', lw: 1.2, cap: 4.5 } },
    { type: 'line', data: aFitUV.map((x, i) => ({ x, y: aFitMed[i] })), order: 3, borderColor: '#0000ff', borderWidth: 1.2, pointRadius: 0, fill: false },
    { type: 'line', data: aFitUV.map((x, i) => ({ x, y: aFitHi[i] })), order: 4, borderColor: 'transparent', borderWidth: 0, pointRadius: 0, backgroundColor: BAND, fill: '+1' },
    { type: 'line', data: aFitUV.map((x, i) => ({ x, y: aFitLo[i] })), order: 4, borderColor: 'transparent', borderWidth: 0, pointRadius: 0, fill: false },
    { type: 'line', data: xy(aTenToOne), order: 6, borderColor: '#000', borderWidth: 1, borderDash: [1.2, 2.2], pointRadius: 0, fill: false },
    { type: 'line', data: xy(aOneToOne), order: 6, borderColor: '#000', borderWidth: 1, borderDash: [5, 3], pointRadius: 0, fill: false }
  ];
  const deco = (ctx, chart) => {
    const sx = chart.scales.x, sy = chart.scales.y;
    const ang = Math.atan2(sy.getPixelForValue(10) - sy.getPixelForValue(1), sx.getPixelForValue(10) - sx.getPixelForValue(1));
    const nx = Math.sin(ang), ny = -Math.cos(ang);
    const ox = box[0], oy = box[1];
    let px = sx.getPixelForValue(1.3) + ox, py = sy.getPixelForValue(13) + oy;
    rich(ctx, [['R', 'i'], ['halo', 'is'], [' = 10 \u00d7 ', ''], ['R', 'i'], ['UVC', 'is']], px + nx * 7, py + ny * 7, 12.5, ang);
    px = sx.getPixelForValue(3.4) + ox; py = sy.getPixelForValue(3.4) + oy;
    rich(ctx, [['R', 'i'], ['halo', 'is'], [' = ', ''], ['R', 'i'], ['UVC', 'is']], px - nx * 15, py - ny * 15, 12.5, ang);
    rich(ctx, [['R', ''], ['eff', 's'], [' (UV) [kpc]', '']], 285.5, 403, 17);
    rich(ctx, REFF_Y, 23, 203.5, 17, -Math.PI / 2);
    legendFrame(ctx, 274, 243, 485, 352);
    ctx.save(); ctx.strokeStyle = '#0000ff'; ctx.lineWidth = 1.3; ctx.beginPath(); ctx.moveTo(279, 257.5); ctx.lineTo(315, 257.5); ctx.stroke();
    ctx.fillStyle = BAND; ctx.fillRect(279, 277, 36, 11.5); ctx.restore();
    handleErr(ctx, 297, 308.5, 9, 9, '#888888', 1.2, 3.5); handleSquare(ctx, 297, 308.5);
    handleErr(ctx, 297, 334, 9, 9, '#888888', 1.2, 3.5); handleDot(ctx, 297, 334, 4, '#000');
    legendText(ctx, 'MCMC fit median', 330, 257.5, 17);
    legendText(ctx, 'MCMC fit 68% CI', 330, 283, 17);
    legendText(ctx, 'This Work', 330, 308.5, 17);
    legendText(ctx, 'Wisotzki+16', 330, 334, 17);
  };
  new Chart(place('pA', box), baseConfig(box, area, ds,
    axis('logarithmic', 0.1, 50, aTickVals, aTickLabels, 7, fitX(box, area)),
    axis('logarithmic', 0.1, 50, aTickVals, aTickLabels, 6, fitY(box, area)),
    [errPlugin, framePlugin(1, '#000'), decoPlugin(box, deco)]));
}

// ---------------- panel B ----------------
{
  const box = [513, 30, 513, 385], area = [600, 67, 995, 359];
  const ds = [
    twDataset(toPts(bTwL, bTwR, { ylo: bTwRlo, yhi: bTwRhi, lim: bTwLim }), '#000'),
    cloudDataset(bCloud.concat(bCloudCore))
  ];
  const deco = ctx => {
    rich(ctx, [['log(L', ''], ['Ly\u03b1', 's'], [') [erg s', ''], ['\u22121', 'p'], [']', '']], 797.5, 403, 17);
    rich(ctx, REFF_Y, 543, 213, 17, -Math.PI / 2);
    cloudLegend(ctx, [824, 298, 987, 351], 847, 877, 311, 335);
  };
  new Chart(place('pB', box), baseConfig(box, area, ds,
    axis('linear', 41, 43.5, bTickVals, bTickLabels, 7, fitX(box, area)),
    axis('logarithmic', 0.1, 100, rTickVals, rTickLabels, 6, fitY(box, area)),
    [errPlugin, framePlugin(1, '#000'), decoPlugin(box, deco)]));
}

// ---------------- panel C ----------------
{
  const box = [0, 415, 513, 373], area = [86, 427, 494, 730];
  const ds = [
    twDataset(toPts(cTwEW, cTwR, { ylo: cTwRlo, yhi: cTwRhi, lim: cTwLim }), '#000'),
    cloudDataset(cCloud.concat(cCloudCore))
  ];
  const deco = ctx => {
    rich(ctx, [['EW', ''], ['0', 's'], [' (Ly\u03b1) [\u00c5]', '']], 290, 776, 17);
    rich(ctx, REFF_Y, 33, 578.5, 17, -Math.PI / 2);
    cloudLegend(ctx, [95, 667, 264, 721], 119, 149, 680, 705);
  };
  new Chart(place('pC', box), baseConfig(box, area, ds,
    axis('logarithmic', 0.43, 4500, cTickVals, cTickLabels, 7, fitX(box, area)),
    axis('logarithmic', 0.1, 100, rTickVals, rTickLabels, 6, fitY(box, area)),
    [errPlugin, framePlugin(1, '#000'), decoPlugin(box, deco)]));
}

// ---------------- panel D ----------------
{
  const box = [513, 415, 513, 373], area = [604, 427, 1010, 730];
  const ds = [
    twDataset(toPts(dTwF, dTwR, { ylo: dTwRlo, yhi: dTwRhi, lim: dTwLim }), '#000'),
    cloudDataset(dCloud.concat(dCloudCore))
  ];
  const deco = ctx => {
    rich(ctx, [['FWHM (Ly\u03b1) [km s', ''], ['\u22121', 'p'], [']', '']], 807, 776, 17);
    rich(ctx, REFF_Y, 546, 578.5, 17, -Math.PI / 2);
    cloudLegend(ctx, [835, 667, 1003, 722], 858, 890, 681, 706);
  };
  new Chart(place('pD', box), baseConfig(box, area, ds,
    axis('linear', -26, 727, dTickVals, dTickLabels, 7, fitX(box, area)),
    axis('logarithmic', 0.1, 100, rTickVals, rTickLabels, 6, fitY(box, area)),
    [errPlugin, framePlugin(1.6, '#000'), decoPlugin(box, deco)]));
}
</script>
</body>
</html>
